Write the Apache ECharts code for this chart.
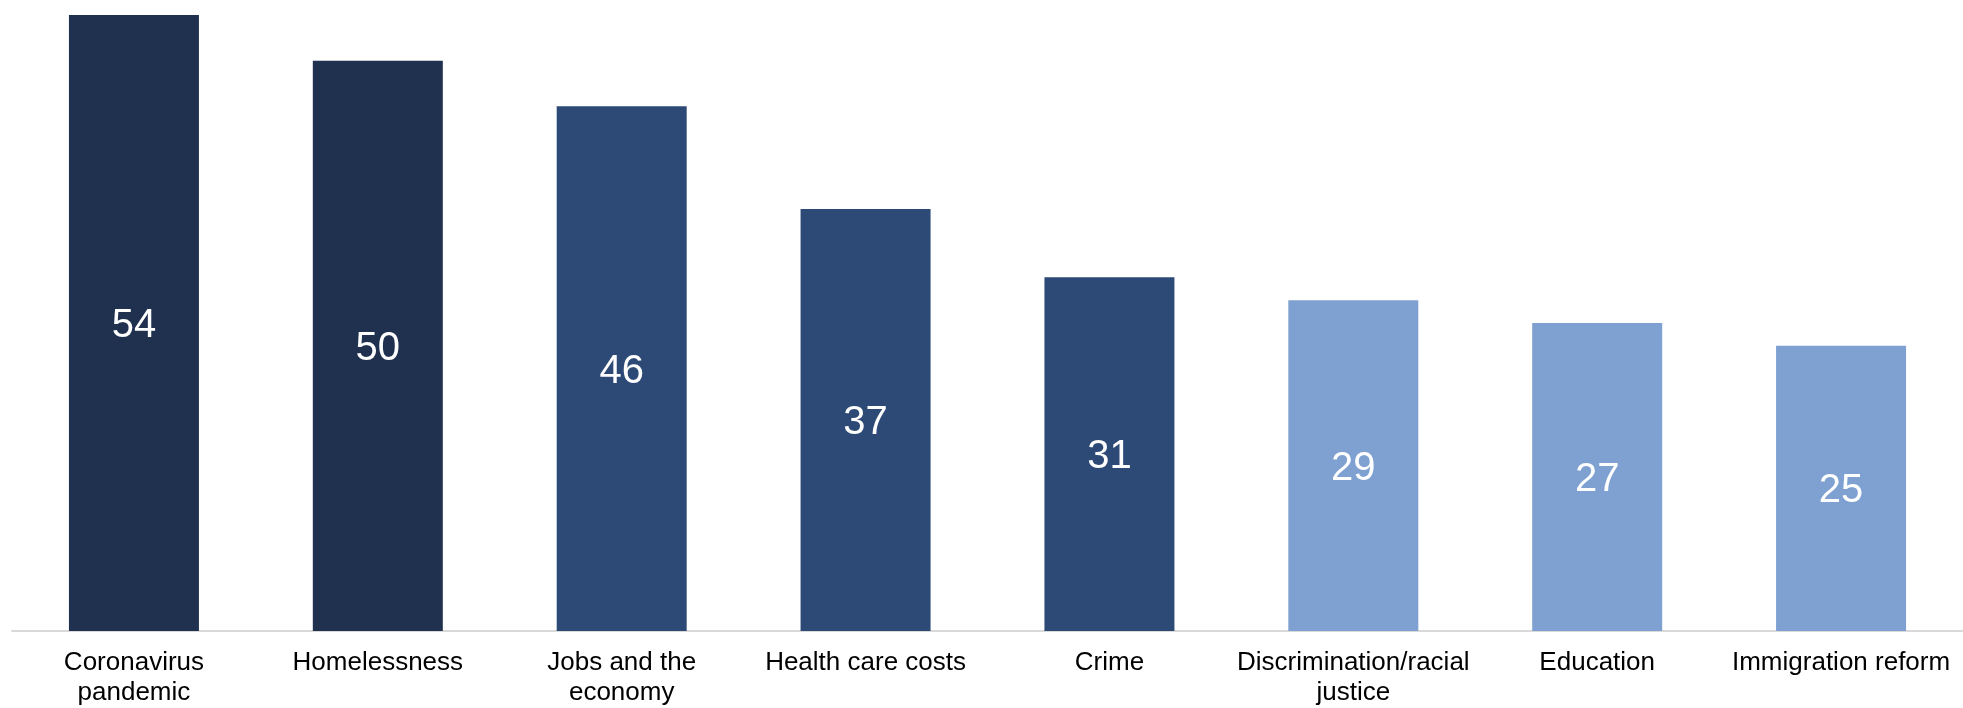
<!DOCTYPE html>
<html>
<head>
<meta charset="utf-8">
<style>
  html, body { margin: 0; padding: 0; background: #ffffff; }
  #chart { width: 1963px; height: 708px; }
</style>
<script src="https://cdn.jsdelivr.net/npm/echarts@6/dist/echarts.min.js"></script>
</head>
<body>
<div id="chart"></div>
<script>
const categories = [
  "Coronavirus\npandemic",
  "Homelessness",
  "Jobs and the\neconomy",
  "Health care costs",
  "Crime",
  "Discrimination/racial\njustice",
  "Education",
  "Immigration reform"
];
const values = [54, 50, 46, 37, 31, 29, 27, 25];
const yMin = 0;
const yMax = 54;

const barColors = ["#1F314F", "#1F314F", "#2C4A75", "#2C4A75", "#2C4A75", "#7FA1D1", "#7FA1D1", "#7FA1D1"];

const chart = echarts.init(document.getElementById('chart'), null, { renderer: 'canvas' });
chart.setOption({
  animation: false,
  backgroundColor: '#ffffff',
  grid: { left: 12, top: 15, width: 1958, height: 618, containLabel: false },
  xAxis: {
    type: 'category',
    data: categories,
    boundaryGap: true,
    axisLine: { show: true, lineStyle: { color: '#D9D9D9', width: 2 } },
    axisTick: { show: false },
    axisLabel: {
      color: '#000000',
      fontFamily: '"Liberation Sans", Arial, sans-serif',
      fontSize: 26,
      lineHeight: 30,
      margin: 17,
      interval: 0
    }
  },
  yAxis: {
    type: 'value',
    min: yMin,
    max: yMax,
    show: false,
    splitLine: { show: false }
  },
  series: [{
    type: 'bar',
    data: values.map((v, i) => ({ value: v, itemStyle: { color: barColors[i] } })),
    barWidth: 130,
    label: {
      show: true,
      position: 'inside',
      offset: [0, 3],
      color: '#ffffff',
      fontFamily: '"Liberation Sans", Arial, sans-serif',
      fontSize: 40
    }
  }]
});
</script>
</body>
</html>
